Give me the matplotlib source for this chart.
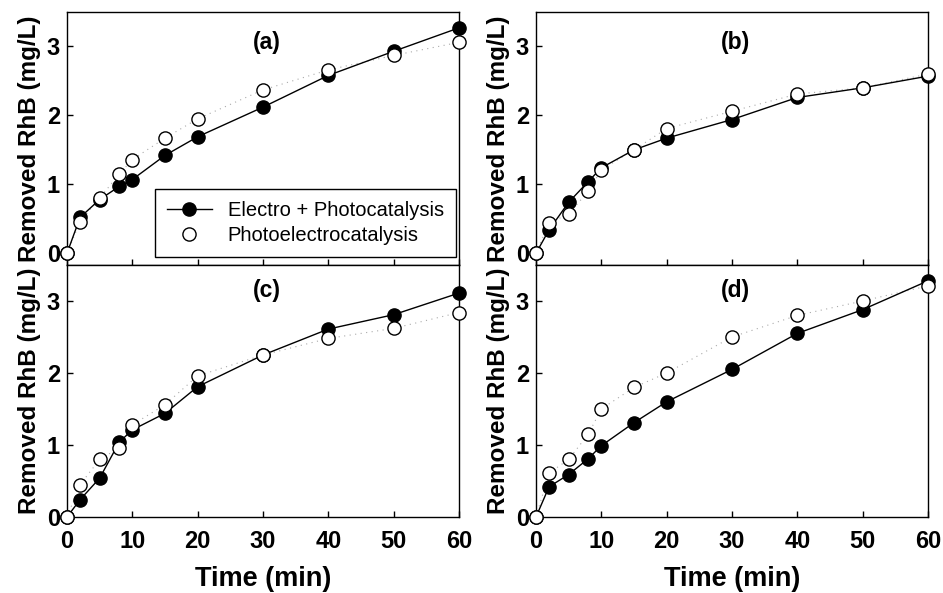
import matplotlib
matplotlib.use("Agg")
import matplotlib.pyplot as plt

plt.rcParams['font.family'] = ['Liberation Sans', 'DejaVu Sans']

time_min = [0, 2, 5, 8, 10, 15, 20, 30, 40, 50, 60]

# Removed RhB (mg/L) for each experiment set
a_electro_photo = [0, 0.52, 0.78, 0.97, 1.07, 1.42, 1.69, 2.12, 2.58, 2.93, 3.27]
a_photoelectro = [0, 0.46, 0.80, 1.15, 1.36, 1.67, 1.95, 2.37, 2.66, 2.87, 3.06]

b_electro_photo = [0, 0.34, 0.74, 1.04, 1.24, 1.50, 1.67, 1.94, 2.26, 2.40, 2.57]
b_photoelectro = [0, 0.44, 0.57, 0.90, 1.21, 1.50, 1.81, 2.06, 2.31, 2.40, 2.60]

c_electro_photo = [0, 0.24, 0.54, 1.04, 1.21, 1.44, 1.81, 2.25, 2.61, 2.81, 3.11]
c_photoelectro = [0, 0.45, 0.80, 0.96, 1.28, 1.56, 1.96, 2.25, 2.48, 2.62, 2.84]

d_electro_photo = [0, 0.42, 0.59, 0.81, 0.99, 1.31, 1.60, 2.05, 2.55, 2.88, 3.28]
d_photoelectro = [0, 0.61, 0.80, 1.15, 1.50, 1.80, 2.00, 2.50, 2.80, 3.00, 3.21]

panel_labels = ['(a)', '(b)', '(c)', '(d)']
series_names = ['Electro + Photocatalysis', 'Photoelectrocatalysis']
x_ticks = [0, 10, 20, 30, 40, 50, 60]
y_ticks = [0, 1, 2, 3]

fig = plt.figure(figsize=(9.43, 5.93), dpi=100)

W = 392 / 943
lefts = [67 / 943, 536 / 943]
top_bottom = (593 - 265) / 593
top_height = 253 / 593
bot_bottom = (593 - 517) / 593
bot_height = 252 / 593

rects = [
    (lefts[0], top_bottom, W, top_height),
    (lefts[1], top_bottom, W, top_height),
    (lefts[0], bot_bottom, W, bot_height),
    (lefts[1], bot_bottom, W, bot_height),
]

data = [
    (a_electro_photo, a_photoelectro),
    (b_electro_photo, b_photoelectro),
    (c_electro_photo, c_photoelectro),
    (d_electro_photo, d_photoelectro),
]

for i, (rect, (filled, hollow), lab) in enumerate(zip(rects, data, panel_labels)):
    ax = fig.add_axes(rect)
    ax.plot(time_min, filled, color='black', lw=1.0, marker='o', ms=9.5,
            mfc='black', mec='black', mew=1.0, label=series_names[0], zorder=3)
    ax.plot(time_min, hollow, color='#aaaaaa', lw=0.8, ls=(0, (1, 4)),
            zorder=2)
    ax.plot(time_min, hollow, ls='none', marker='o', ms=9.5,
            mfc='white', mec='black', mew=1.0, label=series_names[1], zorder=4)

    ax.set_xlim(0, 60)
    if i < 2:
        ax.set_ylim(-0.17, 3.5)
    else:
        ax.set_ylim(0, 3.5)
    ax.set_xticks(x_ticks)
    ax.set_yticks(y_ticks)
    ax.tick_params(direction='in', length=4, width=1, labelsize=17)
    ax.tick_params(axis='x', pad=9)
    ax.tick_params(axis='y', pad=5)
    for t in ax.get_xticklabels() + ax.get_yticklabels():
        t.set_fontweight('bold')
    if i < 2:
        ax.tick_params(labelbottom=False)
    else:
        ax.set_xlabel('Time (min)', fontsize=19.5, fontweight='bold', labelpad=10)
    ax.set_ylabel('Removed RhB (mg/L)', fontsize=17.5, fontweight='bold', labelpad=4)
    for s in ax.spines.values():
        s.set_linewidth(1.0)
    for ln in ax.lines:
        ln.set_clip_on(False)

    yl = 0.88 if i < 2 else 0.90
    ax.text(0.51, yl, lab, transform=ax.transAxes, ha='center', va='center',
            fontsize=16.5, fontweight='bold')

    if i == 0:
        leg = ax.legend(loc='lower right', bbox_to_anchor=(0.992, 0.032),
                        borderaxespad=0, fancybox=False, framealpha=1,
                        edgecolor='black', fontsize=14.5, handlelength=2.2,
                        borderpad=0.6, labelspacing=0.3, handletextpad=0.8)
        leg.get_frame().set_linewidth(1.0)

fig.savefig('out.png', dpi=100)
